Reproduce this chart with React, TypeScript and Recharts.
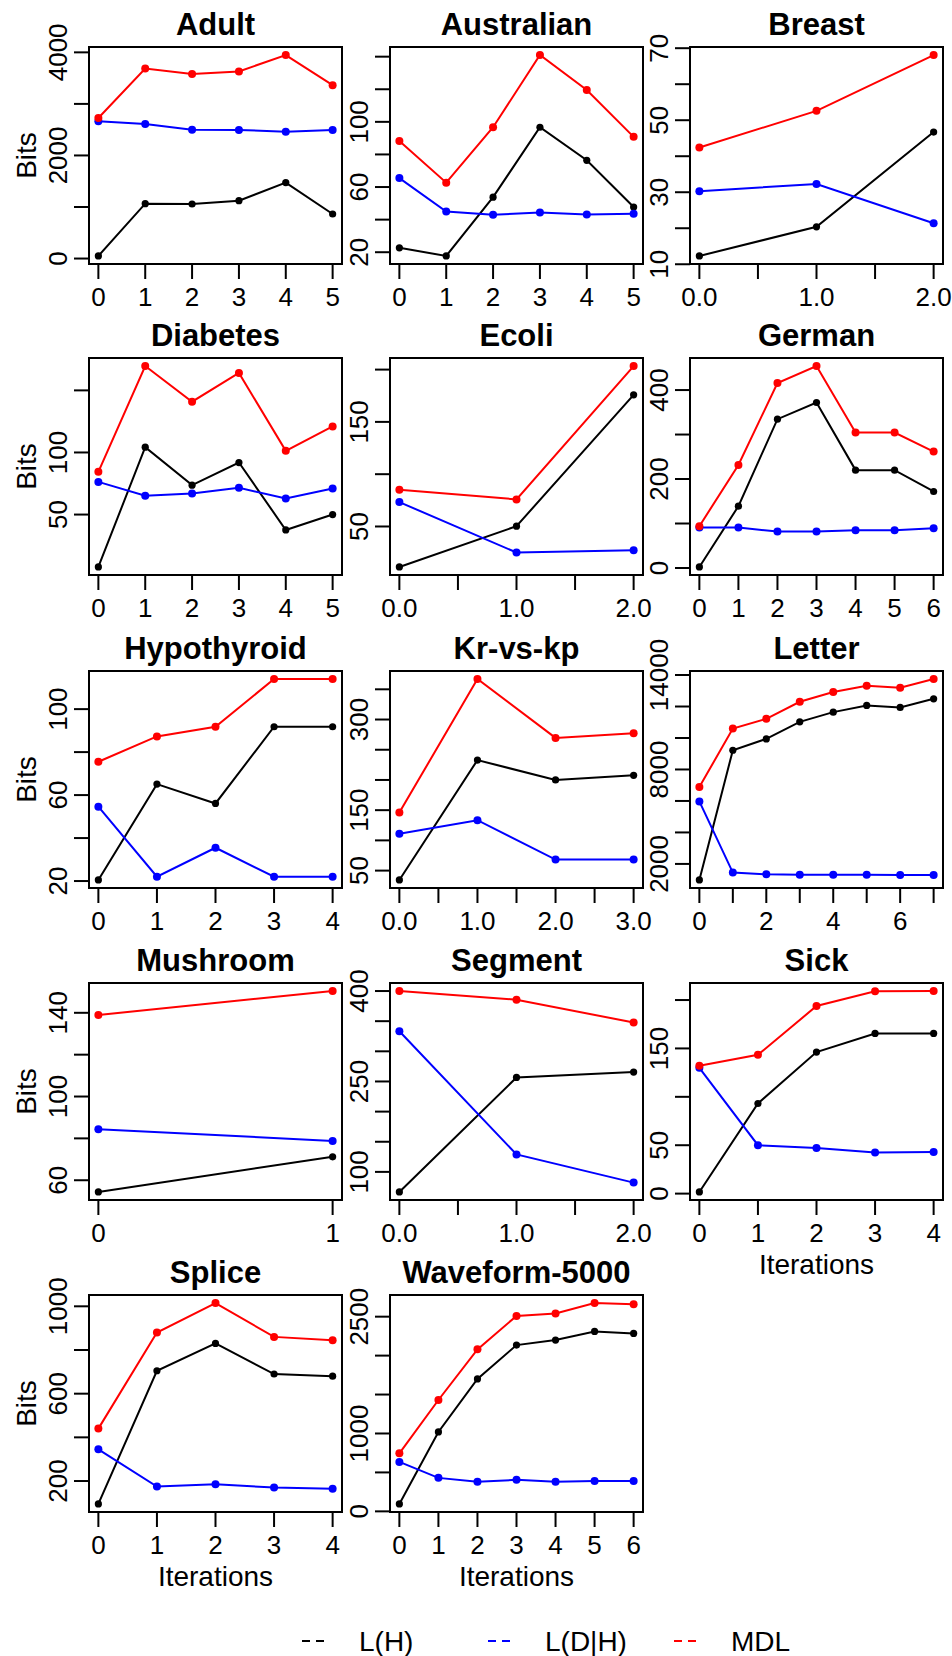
import React from "react";
import { LineChart, Line, XAxis, YAxis, ReferenceArea } from "recharts";

// L(H), L(D|H) and MDL per iteration
const ADULT_LH = [50, 1065, 1058, 1123, 1474, 864];
const ADULT_LDH = [2662, 2610, 2500, 2494, 2461, 2494];
const ADULT_MDL = [2727, 3688, 3578, 3630, 3948, 3364];

const AUSTRALIAN_LH = [22.7, 17.7, 53.8, 96.7, 76.4, 47.7];
const AUSTRALIAN_LDH = [65.5, 45, 43, 44.4, 43.2, 43.6];
const AUSTRALIAN_MDL = [88.3, 62.7, 96.7, 141, 119.5, 90.8];

const BREAST_LH = [12.3, 20.4, 46.7];
const BREAST_LDH = [30.3, 32.3, 21.4];
const BREAST_MDL = [42.4, 52.6, 68.1];

const DIABETES_LH = [7.8, 104.3, 73.7, 91.9, 37.6, 50];
const DIABETES_LDH = [76.3, 65.1, 66.9, 71.5, 62.9, 71];
const DIABETES_MDL = [84.4, 169.6, 140.9, 164, 101.3, 121];

const ECOLI_LH = [11.3, 50.3, 175.9];
const ECOLI_LDH = [73.3, 25.1, 27.3];
const ECOLI_MDL = [85.1, 75.9, 203.4];

const GERMAN_LH = [2.3, 139, 334.6, 372, 220, 220, 172];
const GERMAN_LDH = [91, 91, 82, 82, 85, 85, 89.5];
const GERMAN_MDL = [94, 231.6, 415.8, 454, 304.5, 304.5, 261.6];

const HYPO_LH = [20.5, 65.1, 56.1, 91.8, 91.8];
const HYPO_LDH = [54.6, 22, 35.5, 22, 22];
const HYPO_MDL = [75.5, 87.3, 91.8, 114, 114];

const KRKP_LH = [34.5, 232.9, 200, 207.7];
const KRKP_LDH = [110.8, 133.4, 68.2, 68.2];
const KRKP_MDL = [146, 367, 269.6, 277.3];

const LETTER_LH = [981, 9221, 9943, 11026, 11642, 12067, 11939, 12491];
const LETTER_LDH = [5971, 1448, 1342, 1320, 1320, 1320, 1299, 1299];
const LETTER_MDL = [6885, 10602, 11218, 12301, 12917, 13320, 13193, 13745];

const MUSHROOM_LH = [54.4, 71.2];
const MUSHROOM_LDH = [84.4, 78.8];
const MUSHROOM_MDL = [139, 150.4];

const SEGMENT_LH = [66.7, 256.7, 265.6];
const SEGMENT_LDH = [333.3, 128.9, 82.2];
const SEGMENT_MDL = [400, 385.6, 347.8];

const SICK_LH = [1.7, 93.1, 146.2, 165.5, 165.5];
const SICK_LDH = [130, 50, 47.2, 42.4, 43.1];
const SICK_MDL = [132, 143.4, 193.8, 209, 209.3];

const SPLICE_LH = [95, 705, 830, 690, 680];
const SPLICE_LDH = [345, 175, 185, 170, 165];
const SPLICE_MDL = [440, 880, 1015, 860, 845];

const WAVE_LH = [95, 1020, 1700, 2135, 2200, 2310, 2285];
const WAVE_LDH = [635, 430, 380, 405, 380, 390, 390];
const WAVE_MDL = [745, 1430, 2080, 2510, 2540, 2675, 2660];

// x ticks / labelled x ticks
const X_0_1 = [0, 1];
const X_0_4 = [0, 1, 2, 3, 4];
const X_0_5 = [0, 1, 2, 3, 4, 5];
const X_0_6 = [0, 1, 2, 3, 4, 5, 6];
const X_0_7 = [0, 1, 2, 3, 4, 5, 6, 7];
const X_0_7_LABELS = [0, 2, 4, 6];
const X_HALF_2 = [0, 0.5, 1, 1.5, 2];
const X_HALF_3 = [0, 0.5, 1, 1.5, 2, 2.5, 3];
const X_INT_2 = [0, 1, 2];
const X_INT_3 = [0, 1, 2, 3];

// y ticks / labelled y ticks
const ADULT_Y = [0, 1000, 2000, 3000, 4000];
const ADULT_YL = [0, 2000, 4000];
const AUSTRALIAN_Y = [20, 40, 60, 80, 100, 120, 140];
const AUSTRALIAN_YL = [20, 60, 100];
const BREAST_Y = [10, 20, 30, 40, 50, 60, 70];
const BREAST_YL = [10, 30, 50, 70];
const DIABETES_Y = [50, 100, 150];
const DIABETES_YL = [50, 100];
const ECOLI_Y = [50, 100, 150, 200];
const ECOLI_YL = [50, 150];
const GERMAN_Y = [0, 100, 200, 300, 400];
const GERMAN_YL = [0, 200, 400];
const HYPO_Y = [20, 40, 60, 80, 100];
const HYPO_YL = [20, 60, 100];
const KRKP_Y = [50, 100, 150, 200, 250, 300, 350];
const KRKP_YL = [50, 150, 300];
const LETTER_Y = [2000, 4000, 6000, 8000, 10000, 12000, 14000];
const LETTER_YL = [2000, 8000, 14000];
const MUSHROOM_Y = [60, 80, 100, 120, 140];
const MUSHROOM_YL = [60, 100, 140];
const SEGMENT_Y = [100, 150, 200, 250, 300, 350, 400];
const SEGMENT_YL = [100, 250, 400];
const SICK_Y = [0, 50, 100, 150, 200];
const SICK_YL = [0, 50, 150];
const SPLICE_Y = [200, 400, 600, 800, 1000];
const SPLICE_YL = [200, 600, 1000];
const WAVE_Y = [0, 500, 1000, 1500, 2000, 2500];
const WAVE_YL = [0, 1000, 2500];

const SERIES = [
  { key: "lh", name: "L(H)", color: "#000000", r: 3.6 },
  { key: "ldh", name: "L(D|H)", color: "#0000FF", r: 4 },
  { key: "mdl", name: "MDL", color: "#FF0000", r: 4 },
];

const PANELS = [
  { title: "Adult", lh: ADULT_LH, ldh: ADULT_LDH, mdl: ADULT_MDL, xt: X_0_5, xl: X_0_5, yt: ADULT_Y, yl: ADULT_YL },
  { title: "Australian", lh: AUSTRALIAN_LH, ldh: AUSTRALIAN_LDH, mdl: AUSTRALIAN_MDL, xt: X_0_5, xl: X_0_5, yt: AUSTRALIAN_Y, yl: AUSTRALIAN_YL },
  { title: "Breast", lh: BREAST_LH, ldh: BREAST_LDH, mdl: BREAST_MDL, xt: X_HALF_2, xl: X_INT_2, yt: BREAST_Y, yl: BREAST_YL },
  { title: "Diabetes", lh: DIABETES_LH, ldh: DIABETES_LDH, mdl: DIABETES_MDL, xt: X_0_5, xl: X_0_5, yt: DIABETES_Y, yl: DIABETES_YL },
  { title: "Ecoli", lh: ECOLI_LH, ldh: ECOLI_LDH, mdl: ECOLI_MDL, xt: X_HALF_2, xl: X_INT_2, yt: ECOLI_Y, yl: ECOLI_YL },
  { title: "German", lh: GERMAN_LH, ldh: GERMAN_LDH, mdl: GERMAN_MDL, xt: X_0_6, xl: X_0_6, yt: GERMAN_Y, yl: GERMAN_YL },
  { title: "Hypothyroid", lh: HYPO_LH, ldh: HYPO_LDH, mdl: HYPO_MDL, xt: X_0_4, xl: X_0_4, yt: HYPO_Y, yl: HYPO_YL },
  { title: "Kr-vs-kp", lh: KRKP_LH, ldh: KRKP_LDH, mdl: KRKP_MDL, xt: X_HALF_3, xl: X_INT_3, yt: KRKP_Y, yl: KRKP_YL },
  { title: "Letter", lh: LETTER_LH, ldh: LETTER_LDH, mdl: LETTER_MDL, xt: X_0_7, xl: X_0_7_LABELS, yt: LETTER_Y, yl: LETTER_YL },
  { title: "Mushroom", lh: MUSHROOM_LH, ldh: MUSHROOM_LDH, mdl: MUSHROOM_MDL, xt: X_0_1, xl: X_0_1, yt: MUSHROOM_Y, yl: MUSHROOM_YL },
  { title: "Segment", lh: SEGMENT_LH, ldh: SEGMENT_LDH, mdl: SEGMENT_MDL, xt: X_HALF_2, xl: X_INT_2, yt: SEGMENT_Y, yl: SEGMENT_YL },
  { title: "Sick", lh: SICK_LH, ldh: SICK_LDH, mdl: SICK_MDL, xt: X_0_4, xl: X_0_4, yt: SICK_Y, yl: SICK_YL },
  { title: "Splice", lh: SPLICE_LH, ldh: SPLICE_LDH, mdl: SPLICE_MDL, xt: X_0_4, xl: X_0_4, yt: SPLICE_Y, yl: SPLICE_YL },
  { title: "Waveform-5000", lh: WAVE_LH, ldh: WAVE_LDH, mdl: WAVE_MDL, xt: X_0_6, xl: X_0_6, yt: WAVE_Y, yl: WAVE_YL },
];

const WITH_XLAB = ["Sick", "Splice", "Waveform-5000"];

// layout (px)
const COL_LEFT = [89, 390, 690];
const ROW_TOP = [47, 358, 671, 983, 1295];
const BOX_W = 253;
const BOX_H = 217;
const Y_AXIS_W = 89;
const X_AXIS_H = 50;
const TOP_M = 47;
const FONT = "'Liberation Sans', Arial, Helvetica, sans-serif";

// R's default 4% axis extension
function padRange(lo: number, hi: number): [number, number] {
  const d = (hi - lo) * 0.04;
  return [lo - d, hi + d];
}

function XTick(props: any) {
  const { x, y, payload, labels, dec } = props;
  if (!labels.includes(payload.value)) return <g />;
  return (
    <text x={x} y={y + 27} textAnchor="middle" fontSize={26} fontFamily={FONT} fill="#000">
      {dec ? payload.value.toFixed(1) : String(payload.value)}
    </text>
  );
}

function YTick(props: any) {
  const { x, y, payload, labels } = props;
  if (!labels.includes(payload.value)) return <g />;
  const bx = x - 7;
  return (
    <text
      x={bx}
      y={y}
      transform={`rotate(-90 ${bx} ${y})`}
      textAnchor="middle"
      fontSize={26}
      fontFamily={FONT}
      fill="#000"
    >
      {String(payload.value)}
    </text>
  );
}

function Panel({ panel, idx }: { panel: any; idx: number }) {
  const col = idx % 3;
  const row = Math.floor(idx / 3);
  const data = panel.lh.map((v: number, i: number) => ({
    iter: i,
    lh: v,
    ldh: panel.ldh[i],
    mdl: panel.mdl[i],
  }));
  const all = [...panel.lh, ...panel.ldh, ...panel.mdl];
  const yDom = padRange(Math.min(...all), Math.max(...all));
  const xDom = padRange(0, panel.lh.length - 1);
  const dec = panel.xt.some((t: number) => !Number.isInteger(t));

  return (
    <div
      style={{
        position: "absolute",
        left: COL_LEFT[col] - Y_AXIS_W,
        top: ROW_TOP[row] - TOP_M,
      }}
    >
      <LineChart
        width={Y_AXIS_W + BOX_W + 12}
        height={TOP_M + BOX_H + X_AXIS_H}
        data={data}
        margin={{ top: TOP_M, right: 12, bottom: 0, left: 0 }}
      >
        <XAxis
          dataKey="iter"
          type="number"
          domain={xDom}
          ticks={panel.xt}
          interval={0}
          height={X_AXIS_H}
          axisLine={false}
          tickSize={15}
          tickMargin={0}
          tickLine={{ stroke: "#000", strokeWidth: 2 }}
          tick={(p: any) => <XTick {...p} labels={panel.xl} dec={dec} />}
        />
        <YAxis
          type="number"
          domain={yDom}
          ticks={panel.yt}
          interval={0}
          width={Y_AXIS_W}
          axisLine={false}
          tickSize={15}
          tickMargin={0}
          tickLine={{ stroke: "#000", strokeWidth: 2 }}
          tick={(p: any) => <YTick {...p} labels={panel.yl} />}
        />
        <ReferenceArea
          x1={xDom[0]}
          x2={xDom[1]}
          y1={yDom[0]}
          y2={yDom[1]}
          fill="none"
          fillOpacity={0}
          stroke="#000"
          strokeWidth={2}
          ifOverflow="visible"
        />
        {SERIES.map((s) => (
          <Line
            key={s.key}
            type="linear"
            dataKey={s.key}
            name={s.name}
            stroke={s.color}
            strokeWidth={2}
            dot={{ r: s.r, fill: s.color, stroke: s.color, strokeWidth: 0 }}
            activeDot={false}
            isAnimationActive={false}
          />
        ))}
      </LineChart>
    </div>
  );
}

function Overlay() {
  const legendY = 1641;
  const legendX = [313, 499, 685];
  return (
    <svg
      width={952}
      height={1656}
      style={{ position: "absolute", left: 0, top: 0, pointerEvents: "none" }}
      fontFamily={FONT}
    >
      {PANELS.map((p, i) => {
        const col = i % 3;
        const row = Math.floor(i / 3);
        const cx = COL_LEFT[col] + BOX_W / 2;
        const top = ROW_TOP[row];
        return (
          <g key={p.title}>
            <text x={cx} y={top - 12} textAnchor="middle" fontSize={31} fontWeight="bold">
              {p.title}
            </text>
            {col === 0 && (
              <text
                x={36}
                y={top + BOX_H / 2}
                transform={`rotate(-90 36 ${top + BOX_H / 2})`}
                textAnchor="middle"
                fontSize={28}
              >
                Bits
              </text>
            )}
            {WITH_XLAB.includes(p.title) && (
              <text x={cx} y={top + BOX_H + 74} textAnchor="middle" fontSize={28}>
                Iterations
              </text>
            )}
          </g>
        );
      })}
      {SERIES.map((s, i) => (
        <g key={s.key}>
          <line
            x1={legendX[i] - 11}
            x2={legendX[i] + 11}
            y1={legendY}
            y2={legendY}
            stroke={s.color}
            strokeWidth={2}
            strokeDasharray="8 6"
          />
          <text x={legendX[i] + 46} y={legendY + 10} fontSize={28}>
            {s.name}
          </text>
        </g>
      ))}
    </svg>
  );
}

export default function App() {
  return (
    <div style={{ position: "absolute", left: 0, top: 0, width: 952, height: 1656, background: "#fff" }}>
      {PANELS.map((p, i) => (
        <Panel key={p.title} panel={p} idx={i} />
      ))}
      <Overlay />
    </div>
  );
}
